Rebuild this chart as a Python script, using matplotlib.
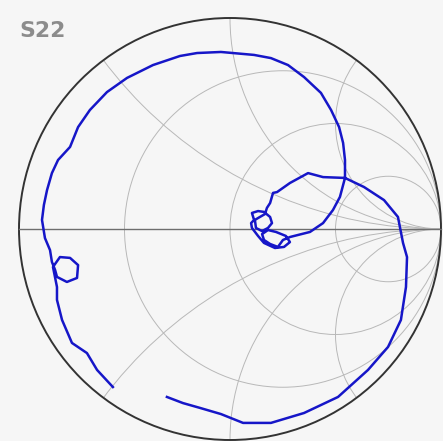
import numpy as np
import matplotlib
matplotlib.use("Agg")
import matplotlib.pyplot as plt
from matplotlib.patches import Circle

# Smith chart grid values
r_circles = [1/3, 1, 3]
x_arcs = [0.5, 1, 2, -0.5, -1, -2]

s22_re = [-0.555, -0.630, -0.678, -0.749, -0.796, -0.820, -0.820,
          -0.839, -0.806, -0.758, -0.720, -0.725, -0.773, -0.820, -0.829, -0.844,
          -0.853, -0.877, -0.891, -0.882, -0.867, -0.844, -0.815, -0.758, -0.720,
          -0.664, -0.583, -0.488, -0.365, -0.237, -0.156, -0.043, 0.114, 0.194,
          0.275, 0.351, 0.431, 0.479, 0.517, 0.536, 0.545, 0.545, 0.521, 0.488,
          0.441, 0.379, 0.284,
          0.251, 0.227, 0.190, 0.161, 0.152, 0.180, 0.218, 0.265, 0.284, 0.256,
          0.213, 0.161, 0.133, 0.104, 0.100, 0.114, 0.104, 0.133, 0.161, 0.190,
          0.199, 0.180, 0.152, 0.123, 0.118, 0.133, 0.166, 0.175,
          0.190, 0.204, 0.223, 0.284, 0.370, 0.441, 0.545, 0.635, 0.730, 0.796,
          0.820, 0.839, 0.834, 0.810, 0.749, 0.654, 0.512, 0.351, 0.194, 0.062,
          -0.043, -0.142, -0.223, -0.299]
s22_im = [-0.749, -0.668, -0.588, -0.540, -0.431, -0.336, -0.275,
          -0.180, -0.133, -0.137, -0.171, -0.232, -0.251, -0.227, -0.194, -0.156,
          -0.100, -0.043, 0.043, 0.114, 0.185, 0.265, 0.327, 0.389, 0.483,
          0.564, 0.649, 0.716, 0.777, 0.820, 0.834, 0.839, 0.825, 0.810,
          0.777, 0.720, 0.645, 0.564, 0.483, 0.408, 0.327, 0.242, 0.152, 0.090,
          0.028, -0.014, -0.038,
          -0.052, -0.085, -0.071, -0.052, -0.024, -0.005, -0.014, -0.033, -0.062, -0.085,
          -0.090, -0.066, -0.033, 0.005, 0.028, 0.043, 0.076, 0.085, 0.081, 0.057,
          0.028, 0.005, -0.010, 0.005, 0.043, 0.052, 0.071, 0.100,
          0.123, 0.171, 0.175, 0.218, 0.265, 0.246, 0.242, 0.199, 0.137, 0.057,
          -0.066, -0.133, -0.275, -0.431, -0.559, -0.668, -0.796, -0.872, -0.919, -0.919,
          -0.877, -0.848, -0.825, -0.796]

bg = "#f6f6f6"
fig = plt.figure(figsize=(4.43, 4.41), dpi=100, facecolor=bg)
ax = fig.add_axes([0, 0, 1, 1])
ax.set_facecolor(bg)
ax.set_xlim(-230 / 211, 213 / 211)
ax.set_ylim(-212 / 211, 229 / 211)
ax.axis("off")

# outer boundary used to clip the grid arcs
clip = Circle((0, 0), 1, transform=ax.transData, facecolor="none", edgecolor="none")
ax.add_patch(clip)

grid_kw = dict(fill=False, edgecolor="#b8b8b8", linewidth=0.7)
for r in r_circles:
    c = Circle((r / (1 + r), 0), 1 / (1 + r), **grid_kw)
    ax.add_patch(c)
    c.set_clip_path(clip)
for x in x_arcs:
    c = Circle((1, 1 / x), 1 / abs(x), **grid_kw)
    ax.add_patch(c)
    c.set_clip_path(clip)

ax.plot([-1, 1], [0, 0], color="#6e6e6e", linewidth=1.0)
ax.add_patch(Circle((0, 0), 1, fill=False, edgecolor="#333333", linewidth=1.4))

ax.plot(s22_re, s22_im, color="#1616c8", linewidth=1.8, solid_joinstyle="round")

fig.text(19 / 443, 1 - 37 / 441, "S22", fontsize=15.8, fontweight="bold",
         color="#8c8c8c", ha="left", va="baseline", family="DejaVu Sans")

fig.savefig("out.png", dpi=100, facecolor=bg)
